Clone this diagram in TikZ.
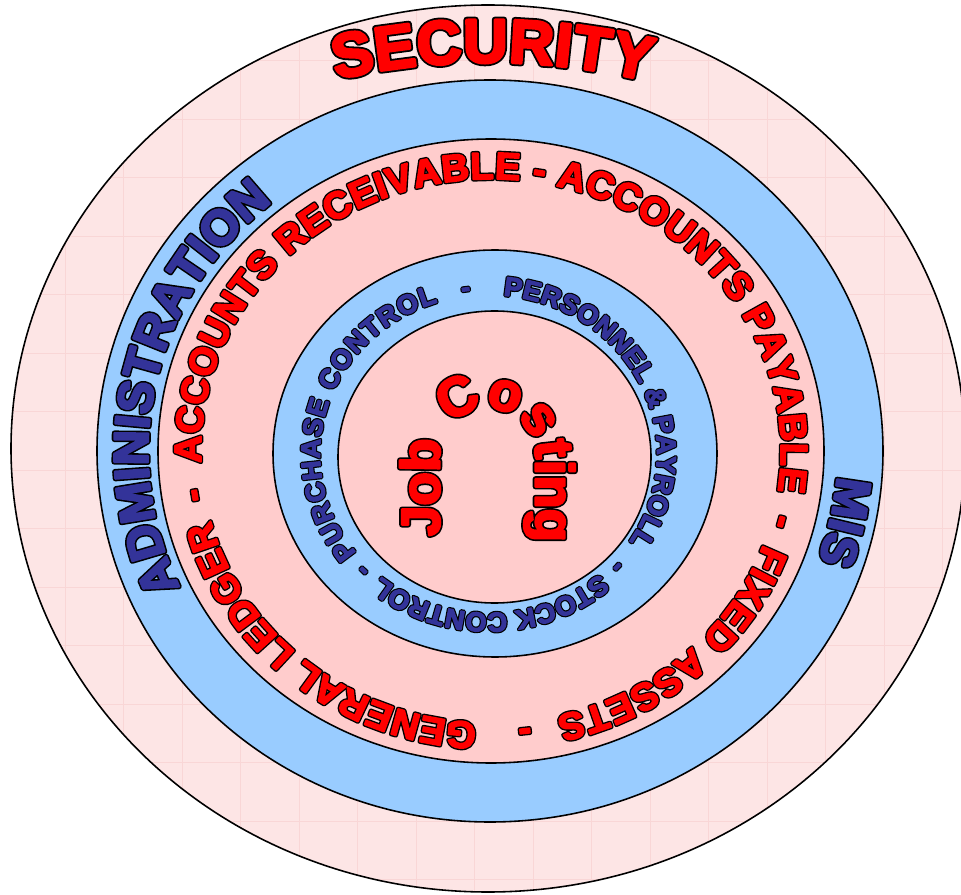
\documentclass[tikz,border=0pt]{standalone}
\usepackage{fontspec}
\setmainfont{Liberation Sans}
\usepackage{xcolor}
\usetikzlibrary{decorations.text}

\definecolor{outerpink}{RGB}{253,229,229}
\definecolor{gridpink}{RGB}{249,214,214}
\definecolor{ringblue}{RGB}{153,204,255}
\definecolor{ringpink}{RGB}{255,204,204}
\definecolor{wordred}{RGB}{255,0,0}
\definecolor{wordblue}{RGB}{51,51,153}

% letters stroked as well as filled (heavy word-art look)
\newcommand\wordtxt[3]{\bfseries\fontsize{#1}{#1}\selectfont\color{#2}%
  \pgfmathsetmacro\fillw{0.045*#1}\pgfmathsetmacro\edgew{\fillw+0.8+0.035*#1}%
  \special{pdf:literal direct #3\space w 1 j 2 Tr}}
% black pass under the coloured pass
\newcommand\ringword[5]{%
  \path[decorate,decoration={text along path,text align=#3,
    text={|\wordtxt{#1}{black}{\edgew}|#4}}] #5;
  \path[decorate,decoration={text along path,text align=#3,
    text={|\wordtxt{#1}{#2}{\fillw}|#4}}] #5;
}

\begin{document}
\begin{tikzpicture}[x=0.02cm,y=0.02cm,
  ring/.style={draw=black,line width=0.9pt}]
\useasboundingbox (0,0) rectangle (961,894);
% rings
\fill[outerpink] (488,445.5) ellipse[x radius=477,y radius=443.5];
\begin{scope}
  \clip (488,445.5) ellipse[x radius=477,y radius=443.5];
  \foreach \k in {0,...,16} {
    \draw[gridpink,line width=0.4pt] (65+58.5*\k,0) -- ++(0,894);
    \draw[gridpink,line width=0.4pt] (0,892-58.5*\k) -- ++(961,0);
  }
\end{scope}
\draw[ring] (488,445.5) ellipse[x radius=477,y radius=443.5];
\draw[ring,fill=ringblue] (490,443) ellipse[x radius=393,y radius=371];
\draw[ring,fill=ringpink] (491,443) ellipse[x radius=333,y radius=312];
\draw[ring,fill=ringblue] (495,440.5) ellipse[x radius=222,y radius=203.5];
\draw[ring,fill=ringpink] (494.5,437) ellipse[x radius=156.5,y radius=146];

% outer ring
\ringword{35.3}{wordred}{fit to path}{SECURITY}{(488,445.5) ++(107:520 and 386)
  arc[start angle=107,end angle=72,x radius=520,y radius=386]}

% blue ring
\ringword{27.9}{wordblue}{fit to path}{ADMINISTRATION}{(490,443) ++(205:342 and 323)
  arc[start angle=205,end angle=129.5,x radius=342,y radius=323]}
\ringword{27.9}{wordblue}{fit to path}{MIS}{(490,443) ++(-4.4:348 and 326)
  arc[start angle=-4.4,end angle=-19.5,x radius=348,y radius=326]}

% pink ring
\ringword{21.6}{wordred}{fit to path}{ACCOUNTS RECEIVABLE - ACCOUNTS PAYABLE}{(491,443) ++(182.5:290 and 272)
  arc[start angle=182.5,end angle=-8.6,x radius=290,y radius=272]}
\ringword{21.6}{wordred}{center}{-}{(491,443) ++(-12.5:290 and 272)
  arc[start angle=-12.5,end angle=-16.5,x radius=290,y radius=272]}
\ringword{21.6}{wordred}{fit to path}{FIXED ASSETS}{(491,443) ++(-20:290 and 272)
  arc[start angle=-20,end angle=-77,x radius=290,y radius=272]}
\ringword{21.6}{wordred}{center}{-}{(491,443) ++(-81.5:290 and 272)
  arc[start angle=-81.5,end angle=-85.5,x radius=290,y radius=272]}
\ringword{21.6}{wordred}{fit to path}{GENERAL LEDGER}{(491,443) ++(-92.8:290 and 272)
  arc[start angle=-92.8,end angle=-165.2,x radius=290,y radius=272]}
\ringword{21.6}{wordred}{center}{-}{(491,443) ++(-169:290 and 272)
  arc[start angle=-169,end angle=-173,x radius=290,y radius=272]}

% inner blue ring
\ringword{15.4}{wordblue}{fit to path}{PURCHASE CONTROL}{(488.5,440) ++(218.4:168.5 and 159)
  arc[start angle=218.4,end angle=107.5,x radius=168.5,y radius=159]}
\ringword{15.4}{wordblue}{center}{-}{(488.5,440) ++(100:168.5 and 159)
  arc[start angle=100,end angle=95,x radius=168.5,y radius=159]}
\ringword{15.4}{wordblue}{fit to path}{PERSONNEL {\&} PAYROLL}{(488.5,440) ++(85:168.5 and 159)
  arc[start angle=85,end angle=-33.5,x radius=168.5,y radius=159]}
\ringword{15.4}{wordblue}{center}{-}{(488.5,440) ++(-40.2:168.5 and 159)
  arc[start angle=-40.2,end angle=-45.2,x radius=168.5,y radius=159]}
\ringword{15.4}{wordblue}{fit to path}{STOCK CONTROL}{(488.5,440) ++(-48.7:168.5 and 159)
  arc[start angle=-48.7,end angle=-129.3,x radius=168.5,y radius=159]}
\ringword{15.4}{wordblue}{center}{-}{(488.5,440) ++(-133:168.5 and 159)
  arc[start angle=-133,end angle=-138,x radius=168.5,y radius=159]}

% centre
\ringword{31}{wordred}{fit to path}{Job Costing}{(439.5,358) -- (439.5,438)
  arc[start angle=180,end angle=0,radius=48] -- (535.5,352)}
\end{tikzpicture}
\end{document}
